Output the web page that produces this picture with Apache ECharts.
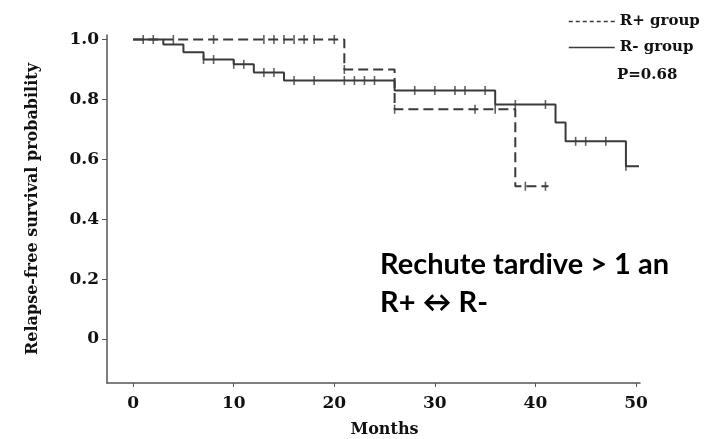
<!DOCTYPE html>
<html>
  <head>
    <meta charset="utf-8" />
    <script src="https://cdn.jsdelivr.net/npm/echarts@6/dist/echarts.min.js"></script>
  </head>
  <body style="margin:0;background:#fff;">
  <div id="main" style="width: 716px;height:439px;"></div>
  <script type="text/javascript">
      // Kaplan-Meier curves
      var xTicks = [0, 10, 20, 30, 40, 50];
      var yTicks = [0, 0.2, 0.4, 0.6, 0.8, 1.0];

      // R+ group (dashed)
      var rPlusTimes = [0, 21, 26, 38, 41.3];
      var rPlusSurv  = [1, 0.9, 0.767, 0.51, 0.51];
      var rPlusCensT = [1, 2, 4, 8, 13, 14, 15, 16, 17, 18, 20, 21, 26, 34, 36, 39, 41];
      var rPlusCensS = [1, 1, 1, 1, 1, 1, 1, 1, 1, 1, 1, 0.9, 0.767, 0.767, 0.767, 0.51, 0.51];

      // R- group (solid)
      var rMinusTimes = [0, 3, 5, 7, 10, 12, 15, 26, 36, 42, 43, 49, 50.3];
      var rMinusSurv  = [1, 0.983, 0.957, 0.933, 0.917, 0.89, 0.863, 0.83, 0.783, 0.723, 0.66, 0.577, 0.577];
      var rMinusCensT = [7, 8, 10, 11, 13, 14, 16, 18, 21, 22, 23, 24, 28, 30, 32, 33, 35, 38, 41, 44, 45, 47, 49];
      var rMinusCensS = [0.933, 0.933, 0.917, 0.917, 0.89, 0.89, 0.863, 0.863, 0.863, 0.863, 0.863, 0.863,
                         0.83, 0.83, 0.83, 0.83, 0.83, 0.783, 0.783, 0.66, 0.66, 0.66, 0.577];

      function pairs(xs, ys) {
        return xs.map(function (x, i) { return [x, ys[i]]; });
      }

      var serif = 'DejaVu Serif';
      var ink = '#3a3a3a';

      var myChart = echarts.init(document.getElementById('main'));

      var option = {
        animation: false,
        backgroundColor: '#fff',
        grid: { left: 107, right: 76, top: 35, bottom: 56, outerBoundsMode: 'none' },
        legend: {
          orient: 'vertical',
          left: 563,
          top: 9,
          itemWidth: 46,
          itemHeight: 14,
          itemGap: 11,
          textStyle: { fontFamily: serif, fontWeight: 'bold', fontSize: 15, color: '#111' },
          data: [
            { name: 'R+ group', itemStyle: { opacity: 0 }, lineStyle: { type: [4, 3], width: 1.5, color: ink } },
            { name: 'R- group', itemStyle: { opacity: 0 }, lineStyle: { type: 'solid', width: 1.5, color: ink } }
          ]
        },
        xAxis: {
          type: 'value',
          min: -2.6,
          max: 50.4,
          name: 'Months',
          nameLocation: 'middle',
          nameGap: 39,
          nameTextStyle: { fontFamily: serif, fontWeight: 'bold', fontSize: 16, color: '#111', padding: [0, 0, 0, 22] },
          splitLine: { show: false },
          axisLine: { onZero: false, lineStyle: { color: '#555', width: 1.5 } },
          axisTick: { customValues: xTicks, length: 4, lineStyle: { color: '#555' } },
          axisLabel: { customValues: xTicks, margin: 12, fontFamily: serif, fontWeight: 'bold', fontSize: 17, color: '#111' }
        },
        yAxis: {
          type: 'value',
          min: -0.147,
          max: 1.015,
          name: 'Relapse-free survival probability',
          nameLocation: 'middle',
          nameGap: 66,
          nameTextStyle: { fontFamily: serif, fontWeight: 'bold', fontSize: 16, color: '#111' },
          splitLine: { show: false },
          axisLine: { show: true, onZero: false, lineStyle: { color: '#555', width: 1.5 } },
          axisTick: { show: true, customValues: yTicks, length: 5, lineStyle: { color: '#555' } },
          axisLabel: {
            customValues: yTicks, margin: 8, fontFamily: serif, fontWeight: 'bold', fontSize: 17, color: '#111',
            formatter: function (v) { return v === 0 ? '0' : v.toFixed(1); }
          }
        },
        graphic: [
          { type: 'text', left: 617, top: 68,
            style: { text: 'P=0.68', font: 'bold 15px "DejaVu Serif"', fill: '#111' } },
          { type: 'text', x: 380, y: 265,
            style: { text: 'Rechute tardive > 1 an', font: 'bold 29px Lato', fill: '#000', verticalAlign: 'middle' } },
          { type: 'text', x: 380, y: 303,
            style: { text: 'R+ \u2194 R-', font: 'bold 29px Lato', fill: '#000', verticalAlign: 'middle' } }
        ],
        series: [
          {
            name: 'R+ group', type: 'line', step: 'end', symbol: 'none',
            lineStyle: { color: ink, width: 2, type: [10, 5] },
            itemStyle: { color: ink },
            data: pairs(rPlusTimes, rPlusSurv)
          },
          {
            name: 'R- group', type: 'line', step: 'end', symbol: 'none',
            lineStyle: { color: ink, width: 2 },
            itemStyle: { color: ink },
            data: pairs(rMinusTimes, rMinusSurv)
          },
          {
            name: 'R+ censored', type: 'scatter', symbol: 'rect', symbolSize: [1.6, 9],
            itemStyle: { color: ink },
            data: pairs(rPlusCensT, rPlusCensS)
          },
          {
            name: 'R- censored', type: 'scatter', symbol: 'rect', symbolSize: [1.6, 9],
            itemStyle: { color: ink },
            data: pairs(rMinusCensT, rMinusCensS)
          }
        ]
      };

      myChart.setOption(option);
    </script>
</body>
</html>
